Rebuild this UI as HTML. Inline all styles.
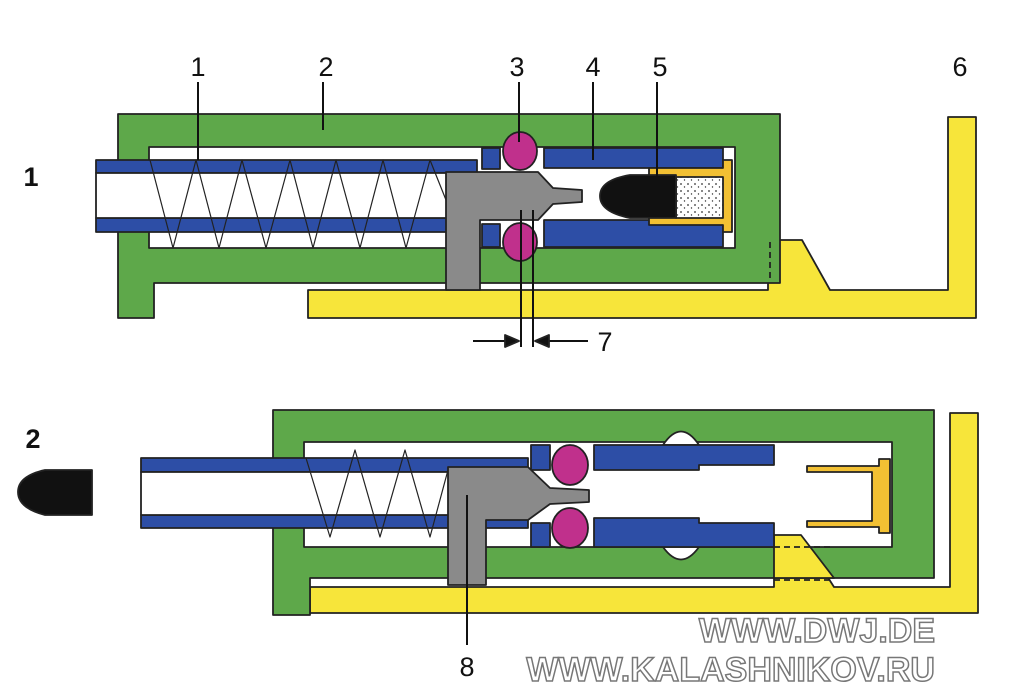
<!DOCTYPE html>
<html><head><meta charset="utf-8"><style>
html,body{margin:0;padding:0;background:#fff;}
svg{display:block}
text{font-family:"Liberation Sans",sans-serif;}
</style></head><body>
<svg width="1024" height="698" viewBox="0 0 1024 698" xmlns="http://www.w3.org/2000/svg">
<defs>
<pattern id="dots" width="7" height="7" patternUnits="userSpaceOnUse">
<rect width="7" height="7" fill="#fff"/><circle cx="2" cy="2" r="0.9" fill="#333"/><circle cx="5.5" cy="5" r="0.7" fill="#333"/>
</pattern>
</defs>
<g stroke="#222" stroke-width="1.8" stroke-linejoin="round">
<!-- ===== TOP DIAGRAM ===== -->
<path d="M308,290 L768,290 L768,240 L802,240 L830,290 L948,290 L948,117 L976,117 L976,318 L308,318 Z" fill="#f7e53a"/>
<path d="M118,114 L780,114 L780,283 L154,283 L154,318 L118,318 Z" fill="#5ea84a"/>
<rect x="149" y="147" width="586" height="101" fill="#fff"/>
<line x1="770" y1="242" x2="770" y2="280" stroke-dasharray="6,4"/>
<rect x="96" y="160" width="381" height="13" fill="#2d4ea6"/>
<rect x="96" y="218" width="381" height="14" fill="#2d4ea6"/>
<rect x="96" y="173" width="381" height="45" fill="#fff"/>
<polyline fill="none" stroke-width="1.2" points="150,160 173,248 196,160 219,248 242,160 266,248 290,160 313,248 336,160 360,248 383,160 406,248 430,160 446,200"/>
<rect x="482" y="148" width="18" height="21" fill="#2d4ea6"/>
<rect x="482" y="224" width="18" height="23" fill="#2d4ea6"/>
<rect x="544" y="148" width="179" height="20" fill="#2d4ea6"/>
<rect x="544" y="220" width="179" height="27" fill="#2d4ea6"/>
<ellipse cx="520" cy="151" rx="17" ry="19" fill="#c0308c"/>
<ellipse cx="520" cy="242" rx="17" ry="19" fill="#c0308c"/>
<path d="M649,168 L723,168 L723,160 L732,160 L732,232 L723,232 L723,225 L649,225 Z" fill="#f2c033"/>
<rect x="676" y="177" width="47" height="41" fill="url(#dots)"/>
<path d="M676,175 L630,175 Q600,180 600,196 Q600,212 630,218 L676,218 Z" fill="#111"/>
<path d="M446,172 L538,172 L553,188 L582,190 L582,202 L553,204 L538,220 L480,220 L480,290 L446,290 Z" fill="#8a8a8a"/>
<g stroke="#111" stroke-width="2">
<line x1="198" y1="82" x2="198" y2="160"/>
<line x1="323" y1="82" x2="323" y2="130"/>
<line x1="519" y1="82" x2="519" y2="142"/>
<line x1="593" y1="82" x2="593" y2="160"/>
<line x1="657" y1="82" x2="657" y2="188"/>
<line x1="521" y1="210" x2="521" y2="347"/>
<line x1="533" y1="210" x2="533" y2="347"/>
<line x1="473" y1="341" x2="508" y2="341"/>
<line x1="546" y1="341" x2="588" y2="341"/>
</g>
<path d="M519,341 L505,335 L505,347 Z" fill="#111"/>
<path d="M535,341 L549,335 L549,347 Z" fill="#111"/>

<!-- ===== BOTTOM DIAGRAM ===== -->
<path d="M310,587 L774,587 L774,535 L801,535 L834,587 L950,587 L950,413 L978,413 L978,613 L310,613 Z" fill="#f7e53a"/>
<path d="M273,410 L934,410 L934,578 L310,578 L310,615 L273,615 Z" fill="#5ea84a"/>
<rect x="304" y="442" width="588" height="105" fill="#fff"/>
<path d="M774,535 L801,535 L834,578 L774,578 Z" fill="#f7e53a"/>
<line x1="774" y1="547" x2="834" y2="547" stroke-dasharray="6,4"/>
<line x1="774" y1="580" x2="834" y2="580" stroke-dasharray="6,4"/>
<path d="M663,445 Q681,418 699,445 Z" fill="#fff"/>
<path d="M663,547 Q681,572 699,547 Z" fill="#fff"/>
<rect x="141" y="458" width="387" height="14" fill="#2d4ea6"/>
<rect x="141" y="515" width="387" height="13" fill="#2d4ea6"/>
<rect x="141" y="472" width="387" height="43" fill="#fff"/>
<polyline fill="none" stroke-width="1.2" points="306,458 330,537 355,450 380,537 405,450 430,537 448,470"/>
<rect x="531" y="445" width="19" height="25" fill="#2d4ea6"/>
<rect x="531" y="523" width="19" height="24" fill="#2d4ea6"/>
<path d="M594,445 L774,445 L774,465 L699,465 L699,470 L594,470 Z" fill="#2d4ea6"/>
<path d="M594,518 L699,518 L699,523 L774,523 L774,547 L594,547 Z" fill="#2d4ea6"/>
<ellipse cx="570" cy="465" rx="18" ry="20" fill="#c0308c"/>
<ellipse cx="570" cy="528" rx="18" ry="20" fill="#c0308c"/>
<path d="M807,466 L879,466 L879,459 L890,459 L890,533 L879,533 L879,527 L807,527 L807,521 L872,521 L872,472 L807,472 Z" fill="#f2c033"/>
<path d="M448,467 L528,467 L550,488 L589,490 L589,502 L550,504 L528,520 L486,520 L486,585 L448,585 Z" fill="#8a8a8a"/>
<path d="M92,470 L45,470 Q18,476 18,492 Q18,508 45,515 L92,515 Z" fill="#111"/>
<line x1="467" y1="495" x2="467" y2="645" stroke="#111" stroke-width="2"/>
</g>
<g font-size="27" fill="#111">
<text x="198" y="76" text-anchor="middle">1</text>
<text x="326" y="76" text-anchor="middle">2</text>
<text x="517" y="76" text-anchor="middle">3</text>
<text x="593" y="76" text-anchor="middle">4</text>
<text x="660" y="76" text-anchor="middle">5</text>
<text x="960" y="76" text-anchor="middle">6</text>
<text x="605" y="351" text-anchor="middle">7</text>
<text x="467" y="676" text-anchor="middle">8</text>
<text x="31" y="186" text-anchor="middle" font-weight="bold">1</text>
<text x="33" y="448" text-anchor="middle" font-weight="bold">2</text>
</g>
<g font-size="34" font-weight="bold" fill="#fff" stroke="#777" stroke-width="1.5" text-anchor="end">
<text x="935" y="642">WWW.DWJ.DE</text>
<text x="935" y="681">WWW.KALASHNIKOV.RU</text>
</g>
</svg>
</body></html>
